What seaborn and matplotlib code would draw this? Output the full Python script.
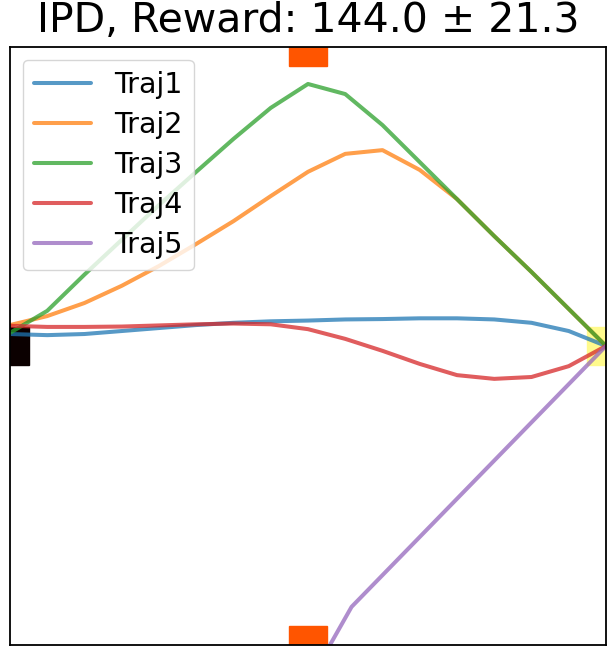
import matplotlib
matplotlib.use('Agg')
import matplotlib.pyplot as plt
from matplotlib.patches import Rectangle
import numpy as np
import pandas as pd
import seaborn as sns

# trajectories (x: 0..16, y: -8..8)
STEPS = list(range(17))
TRAJ1_Y = [0.32, 0.29, 0.32, 0.40, 0.48, 0.56, 0.62, 0.66, 0.68, 0.71, 0.72, 0.74, 0.74, 0.71, 0.62, 0.40, 0.0]
TRAJ2_Y = [0.56, 0.80, 1.15, 1.61, 2.14, 2.73, 3.34, 4.01, 4.66, 5.14, 5.24, 4.71, 3.93, 2.94, 1.98, 0.99, 0.0]
TRAJ3_Y = [0.35, 0.94, 1.91, 2.84, 3.77, 4.66, 5.54, 6.37, 7.01, 6.74, 5.91, 4.92, 3.93, 2.94, 1.98, 0.99, 0.0]
TRAJ4_Y = [0.54, 0.51, 0.51, 0.52, 0.55, 0.58, 0.60, 0.58, 0.45, 0.19, -0.13, -0.48, -0.78, -0.88, -0.83, -0.54, 0.0]
TRAJ5_X = [8.59, 9.17, 16.0]
TRAJ5_Y = [-8.0, -6.98, 0.0]

START = (0, 0)
GOAL = (16, 0)
OBSTACLES = [(8, 8), (8, -8)]
TITLE = 'IPD, Reward: 144.0 ± 21.3'

rows = []
for name, ys in [('Traj1', TRAJ1_Y), ('Traj2', TRAJ2_Y), ('Traj3', TRAJ3_Y), ('Traj4', TRAJ4_Y)]:
    for i, (x, y) in enumerate(zip(STEPS, ys)):
        rows.append({'traj': name, 'step': i, 'x': x, 'y': y})
for i, (x, y) in enumerate(zip(TRAJ5_X, TRAJ5_Y)):
    rows.append({'traj': 'Traj5', 'step': i, 'x': x, 'y': y})
df = pd.DataFrame(rows)

sns.set_style('white')
plt.rcParams['font.family'] = ['DejaVu Sans']
plt.rcParams['text.color'] = 'black'

fig = plt.figure(figsize=(6.08, 6.56), dpi=100)
ax = fig.add_axes([0.0164, 0.0168, 0.9803, 0.9116])

# start / goal / obstacles as unit squares
ax.add_patch(Rectangle((START[0] - 0.5, START[1] - 0.5), 1, 1, color='#0b0000', zorder=1))
ax.add_patch(Rectangle((GOAL[0] - 0.5, GOAL[1] - 0.5), 1, 1, color='#fffa8c', zorder=1))
for ox, oy in OBSTACLES:
    ax.add_patch(Rectangle((ox - 0.5, oy - 0.5), 1, 1, color='#ff5500', zorder=1))

sns.lineplot(data=df, x='x', y='y', hue='traj', palette='tab10', sort=False,
             estimator=None, units='traj', lw=2.9, alpha=0.75, ax=ax, zorder=2)

ax.set_xlim(0, 16)
ax.set_ylim(-8, 8)
ax.set_xticks([])
ax.set_yticks([])
ax.set_xlabel('')
ax.set_ylabel('')
for s in ax.spines.values():
    s.set_color('black')
    s.set_linewidth(1.3)

ax.set_title(TITLE, fontsize=29.5, pad=10.5, color='black')
leg = ax.legend(loc='upper left', fontsize=20.5, framealpha=0.8, fancybox=True,
                labelspacing=0.42, borderaxespad=0.45)
for t in leg.get_texts():
    t.set_color('black')
for h in leg.get_lines():
    h.set_linewidth(2.9)

fig.savefig('out.png', dpi=100)
